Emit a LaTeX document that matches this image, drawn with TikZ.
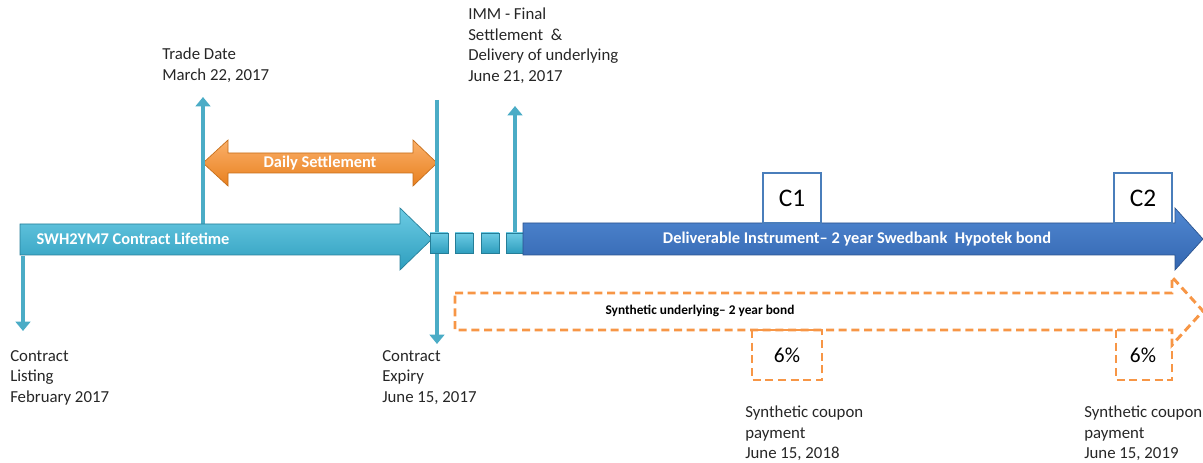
\documentclass[tikz,border=0pt]{standalone}
\usepackage{fontspec}
\setmainfont{Carlito}
\usetikzlibrary{arrows.meta}
\definecolor{cyanline}{HTML}{4BACC6}
\definecolor{cyantop}{HTML}{6CCBE4}
\definecolor{cyanbot}{HTML}{2E9EBE}
\definecolor{bluetop}{HTML}{5088D2}
\definecolor{bluebot}{HTML}{3466B0}
\definecolor{orangetop}{HTML}{FBB06A}
\definecolor{orangebot}{HTML}{E8801E}
\definecolor{dashorange}{HTML}{F79646}
\definecolor{boxblue}{HTML}{4A7EBB}
\tikzset{
  lbl/.style={font=\fontsize{12.6}{15.4}\selectfont, align=left, anchor=north west, inner sep=0pt, text=black!85},
  vline/.style={draw=cyanline, line width=3pt},
  varrow/.style={vline, -{Triangle[width=11pt,length=7pt]}},
  cyanshape/.style={top color=cyantop, bottom color=cyanbot, draw=cyanbot!80!black, line width=0.5pt},
  blueshape/.style={top color=bluetop, bottom color=bluebot, draw=bluebot!80!black, line width=0.5pt},
  orangeshape/.style={top color=orangetop, bottom color=orangebot, draw=orangebot!85!black, line width=0.5pt},
  dashbox/.style={draw=dashorange, line width=2.2pt, dash pattern=on 6pt off 3.5pt},
  intext/.style={font=\bfseries\fontsize{12.3}{14}\selectfont, text=white, inner sep=0pt},
  cbox/.style={draw=boxblue, fill=white, line width=1.5pt, minimum width=44pt, minimum height=37pt, inner sep=0pt, font=\fontsize{19}{22}\selectfont},
}
\begin{document}
\begin{tikzpicture}[x=0.75pt,y=-0.75pt]
\useasboundingbox (0,0) rectangle (1203,463);

% Orange double arrow (Daily Settlement)
\path[orangeshape] (203,163) -- (228,140) -- (228,153) -- (413,153) -- (413,140) -- (437,163) -- (413,186) -- (413,173) -- (228,173) -- (228,186) -- cycle;
\node[intext] (daily) at (320,163) {Daily Settlement};

% vertical cyan lines
\coordinate (tdbot) at (203,224);
\coordinate (tdtop) at (203,97);
\coordinate (extop) at (437,100);
\coordinate (exbot) at (437,344);
\coordinate (immbot) at (515,233);
\coordinate (immtop) at (515,106);
\coordinate (clbot) at (23,331);
\coordinate (cltop) at (23,256);
\draw[varrow] (tdbot) -- (tdtop);
\draw[varrow] (extop) -- (exbot);
\draw[varrow] (immbot) -- (immtop);
\draw[varrow] (cltop) -- (clbot);

% Cyan contract lifetime arrow
\path[cyanshape] (20,224) -- (400,224) -- (400,208) -- (432,239) -- (400,270) -- (400,255) -- (20,255) -- cycle;
\node[intext] (life) at (133,239) {SWH2YM7 Contract Lifetime};

% small squares
\foreach \x/\n in {430/q1,455/q2,481/q3,506/q4}{
  \path[cyanshape] (\x,233) rectangle ++(18,20);
  \coordinate (\n) at (\x+9,243);
}

% Blue deliverable arrow
\path[blueshape] (523,223) -- (1175,223) -- (1175,208) -- (1203,239) -- (1175,270) -- (1175,255) -- (523,255) -- cycle;
\node[intext] (deliv) at (857,239) {Deliverable Instrument– 2 year Swedbank\ \ Hypotek bond};

% C1 C2 boxes
\node[cbox] (c1) at (792,198) {C1};
\node[cbox] (c2) at (1143,198) {C2};

% Dashed synthetic arrow
\draw[dashbox] (455,293) -- (1172,293) -- (1172,277) -- (1203,311) -- (1172,345) -- (1172,330) -- (455,330) -- cycle;
\node[font=\bfseries\fontsize{10}{12}\selectfont, inner sep=0pt] (synth) at (700,311) {Synthetic underlying– 2 year bond};

% 6% boxes
\draw[dashbox] (752,330) rectangle (822,380);
\node[font=\fontsize{16}{18}\selectfont, inner sep=0pt] (p1) at (787,355) {6\%};
\draw[dashbox] (1116,330) rectangle (1172,380);
\node[font=\fontsize{16}{18}\selectfont, inner sep=0pt] (p2) at (1143,355) {6\%};

% labels
\node[lbl] (tdlbl) at (162,48) {Trade Date\\March 22, 2017};
\node[lbl] (immlbl) at (468,8) {IMM - Final\\Settlement\ \ \&\\Delivery of underlying\\June 21, 2017};
\node[lbl] (cllbl) at (10,350) {Contract\\Listing\\February 2017};
\node[lbl] (exlbl) at (382,350) {Contract\\Expiry\\June 15, 2017};
\node[lbl] (s1lbl) at (745,406) {Synthetic coupon\\payment\\June 15, 2018};
\node[lbl] (s2lbl) at (1084,406) {Synthetic coupon\\payment\\June 15, 2019};
\end{tikzpicture}
\end{document}
